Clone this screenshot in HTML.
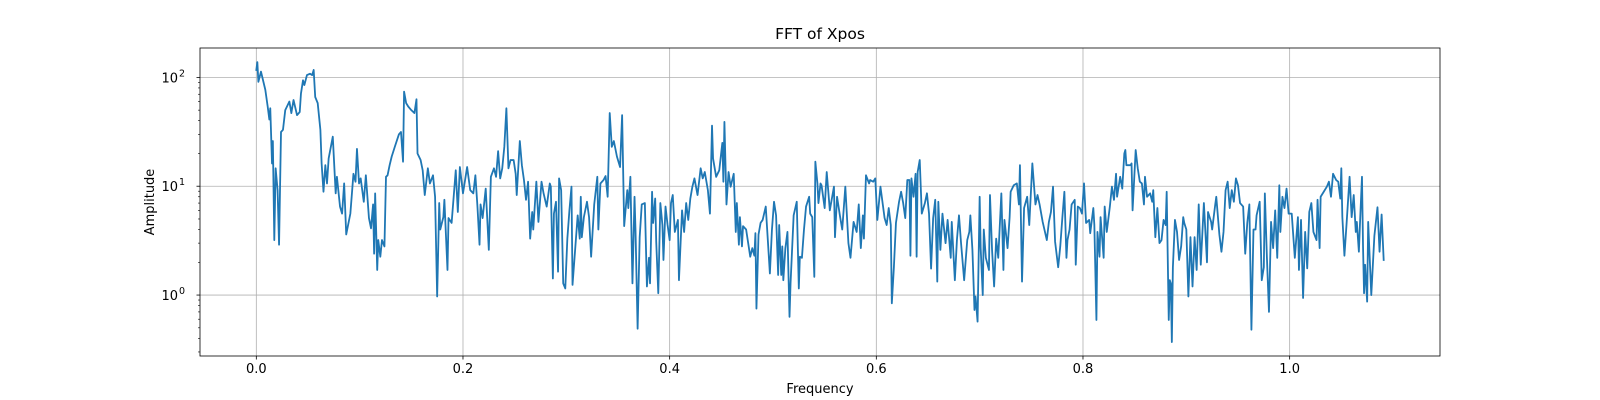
<!DOCTYPE html>
<html><head><meta charset="utf-8"><style>
html,body{margin:0;padding:0;background:#fff;}
svg{display:block;font-family:"DejaVu Sans","Liberation Sans",sans-serif;}
</style></head><body>
<svg id="chart" width="1600" height="400" viewBox="0 0 1600 400" xmlns="http://www.w3.org/2000/svg">
<rect width="1600" height="400" fill="#fff"/>
<g id="grid"></g>
<g id="series"></g>
<rect x="200" y="48" width="1240" height="308" fill="none" stroke="#000" stroke-width="0.8"/>
<g id="axes"></g>
<text x="820" y="39" font-size="15.5" text-anchor="middle">FFT of Xpos</text>
<text x="820" y="393" font-size="13" text-anchor="middle">Frequency</text>
<text x="154" y="202" font-size="13" text-anchor="middle" transform="rotate(-90 154 202)">Amplitude</text>
</svg>
<script>
const freqs = [0,0.001,0.002,0.0045,0.0087,0.011,0.0126,0.0135,0.0152,0.016,0.0174,0.0187,0.0206,0.022,0.0239,0.0258,0.028,0.032,0.0339,0.036,0.0394,0.042,0.0432,0.0452,0.0465,0.049,0.052,0.054,0.0555,0.057,0.0594,0.062,0.0632,0.065,0.0668,0.0684,0.07,0.074,0.0768,0.078,0.081,0.083,0.085,0.087,0.091,0.094,0.096,0.0974,0.0994,0.101,0.104,0.106,0.109,0.111,0.113,0.114,0.115,0.117,0.118,0.12,0.1216,0.124,0.1255,0.127,0.129,0.131,0.134,0.138,0.140,0.142,0.143,0.145,0.147,0.150,0.153,0.155,0.156,0.159,0.161,0.163,0.166,0.168,0.171,0.173,0.175,0.177,0.178,0.181,0.182,0.185,0.186,0.189,0.193,0.195,0.197,0.200,0.204,0.207,0.210,0.212,0.214,0.216,0.217,0.219,0.222,0.225,0.227,0.230,0.232,0.234,0.236,0.238,0.240,0.242,0.244,0.246,0.249,0.251,0.252,0.255,0.257,0.259,0.261,0.263,0.265,
0.267,0.268,0.271,0.273,0.276,0.278,0.281,0.284,0.285,0.287,0.288,0.290,0.292,0.293,0.295,0.297,0.299,0.301,0.303,0.305,0.306,0.309,0.311,0.313,0.314,0.315,0.317,0.320,0.322,0.324,0.327,0.330,0.331,0.333,0.336,0.338,0.340,0.342,0.344,0.346,0.349,0.352,0.354,0.356,0.359,0.360,0.362,0.364,0.366,0.367,0.369,0.371,0.373,0.376,0.378,0.380,0.381,0.383,0.384,0.386,0.387,0.389,0.391,0.393,0.394,0.396,0.398,0.400,0.4013,0.403,0.405,0.408,0.409,0.412,0.414,0.416,0.418,0.420,0.422,0.424,0.427,0.430,0.432,0.434,0.437,0.439,0.441,0.442,0.445,0.448,0.451,0.452,0.453,0.455,0.457,0.459,0.462,0.464,0.465,0.467,0.468,0.470,0.471,0.474,0.478,0.480,0.482,0.483,0.484,0.486,0.488,0.490,0.493,0.495,0.497,0.499,0.501,0.503,0.505,0.506,0.508,0.509,0.510,0.512,0.514,0.516,0.517,0.520,0.523,0.525,0.526,0.528,0.530,0.532,0.535,0.536,0.538,
0.540,0.541,0.543,0.544,0.546,0.547,0.550,0.552,0.555,0.559,0.560,0.562,0.565,0.567,0.570,0.573,0.575,0.578,0.581,0.583,0.585,0.587,0.588,0.590,0.593,0.594,0.597,0.599,0.601,0.604,0.608,0.610,0.612,0.614,0.615,0.617,0.619,0.622,0.624,0.626,0.628,0.630,0.632,0.633,0.634,0.636,0.638,0.639,0.640,0.642,0.644,0.647,0.649,0.651,0.653,0.655,0.657,0.659,0.660,0.662,0.664,0.667,0.669,0.672,0.673,0.676,0.678,0.680,0.682,0.685,0.688,0.690,0.691,0.693,0.695,0.696,0.698,0.700,0.701,0.703,0.704,0.706,0.709,0.710,0.712,0.714,0.716,0.718,0.721,0.723,0.724,0.727,0.729,0.730,0.733,0.736,0.738,0.739,0.741,0.743,0.746,0.748,0.751,0.754,0.756,0.758,0.761,0.765,0.767,0.769,0.771,0.773,0.776,0.778,0.780,0.782,0.784,0.785,0.787,0.789,0.792,0.793,0.795,0.797,0.799,0.801,0.803,0.806,
0.807,0.810,0.811,0.813,0.814,0.816,0.817,0.820,0.821,0.823,0.826,0.828,0.830,0.832,0.833,0.836,0.838,0.840,0.841,0.842,0.846,0.847,0.848,0.851,0.853,0.855,0.857,0.859,0.860,0.862,0.865,0.867,0.868,0.870,0.872,0.874,0.876,0.878,0.880,0.881,0.883,0.884,0.885,0.886,0.887,0.889,0.891,0.893,0.895,0.897,0.898,0.900,0.902,0.904,0.906,0.908,0.910,0.912,0.914,0.917,0.920,0.921,0.924,0.925,0.928,0.929,0.932,0.934,0.936,0.938,0.940,0.942,0.944,0.946,0.948,0.950,0.952,0.955,0.957,0.959,0.961,0.963,0.965,0.967,0.968,0.971,0.973,0.975,0.976,0.978,0.980,0.982,0.984,0.986,0.988,0.990,0.991,0.993,0.995,0.997,0.999,1.002,1.005,1.008,1.009,1.011,1.013,1.015,1.017,1.019,1.021,1.023,1.026,1.027,1.029,1.030,1.033,1.036,1.038,1.040,1.042,1.045,1.047,1.049,1.050,1.051,1.053,1.055,1.058,1.060,1.062,1.064,1.065,1.067,1.068,1.070,1.071,1.072,1.073,1.075,1.076,1.079,1.082,1.085,1.087,1.089,1.091];
const amps = [117,138,91,113,77,54,41,52,16.2,26,3.2,14.6,9.2,2.9,31.5,33,50,60,47,62,45,48,71,94,85,105,108,105,117,66,58,33,16.2,8.9,15.6,10.6,18,28.5,8.6,12.2,6.5,5.6,10.6,3.6,5.6,13,11,22,10.6,11.8,7.2,12.6,5.1,4.1,6.8,2.4,8.6,1.7,3.2,2.25,3.2,2.8,12.2,12.6,15.6,18.7,23,30,31.5,16.8,74,58,54,50,47,63,20,17.4,14,8.3,14.6,10.6,12.6,8,0.97,7,4,5.2,7.5,1.7,5.1,4.6,14,5.8,15,8.6,15,9.2,8.6,12.6,6.5,2.9,6.8,5.1,9.5,2.6,12.2,14.6,12.2,21,11.8,14.6,23,52,14.6,17.4,17.4,13,8.3,26,15.6,11.4,7.5,11,3.3,
5.8,4,11,4.7,11,8.6,6.5,10.6,9.9,1.42,5.6,7.2,1.64,11.8,9.2,1.28,1.15,3.3,6,9.9,1.24,3,5.4,3.3,8,3.4,5.2,7.2,5.2,2.25,6.8,12.2,4,10.6,11.4,12.4,8,47,23,26,18.7,15,45,4.3,9.2,6.3,12.2,1.28,8,3.8,0.49,3.4,6.8,7,1.2,2.2,1.28,8.9,4.6,7.7,3.1,1.04,7,4.4,2.1,6.5,4.4,3.2,7,8.3,3.8,4.9,1.37,6,3.8,7,4.9,7.7,9.9,11.8,8.3,14.6,11.8,13.5,9.2,5.6,36,18,12.2,14,25,11,39,6.8,13.5,9.9,13,3.8,7,2.9,5.2,2.8,4.3,4,2.25,2.7,2.3,3.7,0.75,3.6,4.6,4.9,6.5,3.2,1.58,4,7.2,5.4,1.53,4.4,1.53,2.8,1.37,2.7,3.8,0.63,1.28,5.4,7.2,1.15,2.25,2.2,4,6.5,8,5.6,5.2,
1.47,16.8,10.6,7,10.6,10.2,6.3,13.5,6,9.9,3.4,8,5.2,4,9.9,3,2.2,4.7,3.8,6.8,2.7,5.4,3.3,12.6,10.6,11.4,11,11.8,4.9,9.9,5.1,4.4,6.3,4.4,0.84,1.8,4.6,7.2,8.9,7,5.1,11.4,11.4,2.3,11.8,8,13,2.25,13.5,17.4,5.6,7,8.6,5.6,1.75,5.1,7.5,1.33,7.2,2.6,5.6,3,4.9,2.2,4.7,1.37,3.2,5.4,3,1.37,3.2,3.8,5.4,2.6,0.73,0.97,0.57,8,2.7,1.0,4,2.2,1.7,8.3,2.6,1.2,3.3,2.2,8.6,1.7,4.9,2.7,5.2,8.9,10.2,10.6,6.8,15.6,1.33,6.3,8,4.4,16.2,6.8,8.3,6.8,4.7,3.2,4.7,5.8,9.9,3.1,1.8,2.8,5.1,8.9,2.2,3.2,4,6.8,7.5,1.9,6.5,6.3,5.6,10.6,4.6,4.9,
3.7,6.3,4.4,0.59,3.8,2.25,5.2,2.2,6.5,3.8,6.5,9.9,7.5,13,8,12.2,9.5,20,21.5,15.6,15.6,16.2,6,21.5,14.6,11,10.6,6.8,12.2,8,8.6,7.2,9.2,3.4,6.3,3,3.2,4.9,4.4,8.9,0.59,1.37,1.28,0.37,1.8,4.9,3.8,2.1,2.8,5.2,4.6,4,0.97,3.4,1.2,3.4,1.7,6.8,1.9,7,2,5.8,4.7,4,6.8,8,3.6,2.5,3.8,9.2,11,6.3,9.2,7.2,11.8,10.2,7,6.5,2.4,4.6,6.8,0.48,4,4,5.4,7.2,1.37,1.8,8.6,2.2,0.7,4.7,2.7,6,2.2,10.2,3.8,8,6.3,9.5,5.6,5.6,2.2,5.2,1.7,4.9,0.94,3.8,1.76,5.8,7,3.8,3.2,7.5,2.7,8,8.9,9.9,11,8,13,11.4,11,7.7,14.6,5.2,2.3,4.4,12.2,5.2,8.3,3.8,4.7,2.5,4.4,12.2,2.8,1.04,1.9,0.87,4.7,1.0,3.5,6.4,2.5,5.5,2.1];
const xTicks = [0.0,0.2,0.4,0.6,0.8,1.0];
const xTickLabels = ["0.0","0.2","0.4","0.6","0.8","1.0"];
const yDecades = [0,1,2];

const NS = "http://www.w3.org/2000/svg";
const L = 200, R = 1440, T = 48, B = 356;
const xmin = -0.0545, xmax = 1.1455, lmin = -0.56, lmax = 2.27;
function xs(f){ return L + (f - xmin) / (xmax - xmin) * (R - L); }
function ys(a){ return B - (Math.log10(a) - lmin) / (lmax - lmin) * (B - T); }
function mk(tag, attrs, parent){ const e = document.createElementNS(NS, tag); for (const k in attrs) e.setAttribute(k, attrs[k]); parent.appendChild(e); return e; }

const grid = document.getElementById('grid'), axes = document.getElementById('axes'), series = document.getElementById('series');

xTicks.forEach((t, i) => {
  const x = xs(t);
  const g = mk('line', {x1:x, x2:x, y1:T, y2:B, stroke:'#b0b0b0', 'stroke-width':0.8}, grid);
  
  
  const tk = mk('line', {x1:x, x2:x, y1:B, y2:B+3.5, stroke:'#000', 'stroke-width':0.8}, axes);
  
  
  const lb = mk('text', {x:x, y:B+17, 'font-size':13, 'text-anchor':'middle'}, axes);
  lb.textContent = xTickLabels[i];
  
  
});

yDecades.forEach(d => {
  const y = ys(Math.pow(10, d));
  const g = mk('line', {x1:L, x2:R, y1:y, y2:y, stroke:'#b0b0b0', 'stroke-width':0.8}, grid);
  
  
  const tk = mk('line', {x1:L-3.5, x2:L, y1:y, y2:y, stroke:'#000', 'stroke-width':0.8}, axes);
  
  
  const lb = mk('text', {x:L-22, y:y+5, 'font-size':13, 'text-anchor':'end'}, axes);
  
  
  lb.textContent = '10';
  const sup = mk('text', {x:L-21, y:y-1, 'font-size':9.5, 'text-anchor':'start'}, axes);
  
  
  sup.textContent = String(d);
});

for (let d = -1; d <= 2; d++) {
  for (let m = 2; m <= 9; m++) {
    const v = m * Math.pow(10, d);
    const lv = Math.log10(v);
    if (lv < lmin || lv > lmax) continue;
    const y = ys(v);
    const tk = mk('line', {x1:L-2, x2:L, y1:y, y2:y, stroke:'#000', 'stroke-width':0.6}, axes);
    
    
  }
}

const pts = freqs.map((f, i) => xs(f).toFixed(2) + ',' + ys(amps[i]).toFixed(2)).join(' ');
const line = mk('polyline', {points:pts, fill:'none', stroke:'#1f77b4', 'stroke-width':1.8, 'stroke-linejoin':'round', 'stroke-linecap':'square'}, series);


</script>
</body></html>
